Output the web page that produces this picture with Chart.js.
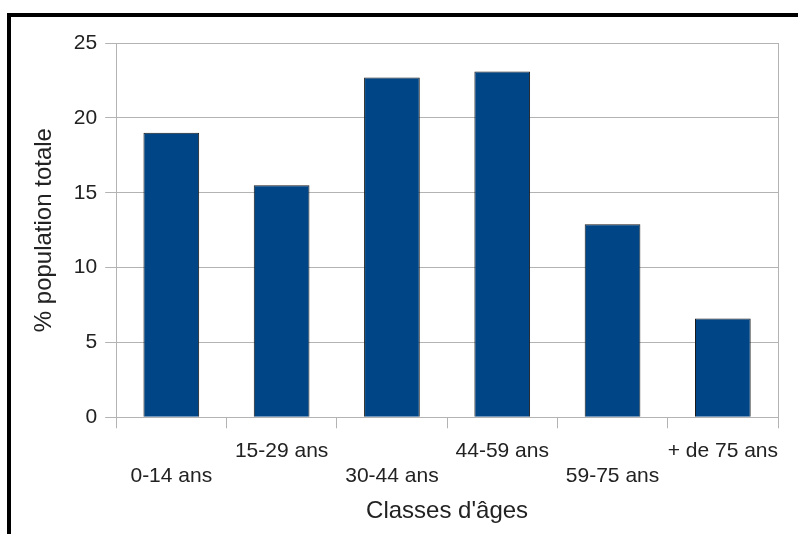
<!DOCTYPE html>
<html lang="fr">
<head>
<meta charset="utf-8">
<title>Population par classes d'âges</title>
<script src="https://cdn.jsdelivr.net/npm/chart.js@4/dist/chart.umd.min.js"></script>
<style>
  html, body { margin: 0; padding: 0; background: #fff; }
  #wrap { position: relative; width: 798px; height: 534px; overflow: hidden; }
  #frame {
    position: absolute; left: 7px; top: 13px; right: 0; bottom: 0;
    border-top: 4px solid #000; border-left: 4px solid #000;
  }
  #chart { position: absolute; left: 0; top: 0; }
</style>
</head>
<body>
<div id="wrap">
  <div id="frame"></div>
  <canvas id="chart" width="798" height="534"></canvas>
</div>
<script>
// Age classes, share of the total population (%)
const categories = ['0-14 ans', '15-29 ans', '30-44 ans', '44-59 ans', '59-75 ans', '+ de 75 ans'];
const shares = [19.0, 15.5, 22.7, 23.1, 12.9, 6.6];
const yTicks = [0, 5, 10, 15, 20, 25];

// Staggered category labels: every other label goes on a second line
const staggered = categories.map((c, i) => (i % 2 === 0 ? ['', c] : [c]));

const GRID = '#b3b3b3';
const TEXT = '#222222';
const FONT = 'Liberation Sans, Arial, sans-serif';

new Chart(document.getElementById('chart'), {
  type: 'bar',
  data: {
    labels: staggered,
    datasets: [{
      data: shares,
      backgroundColor: '#004586',
      borderColor: '#1a1a1a',
      borderWidth: 1,
      barPercentage: 0.505,
      categoryPercentage: 1.0
    }]
  },
  options: {
    responsive: false,
    animation: false,
    events: [],
    layout: { padding: { left: 20, top: 43, right: 20, bottom: 8.5 } },
    plugins: { legend: { display: false }, tooltip: { enabled: false }, title: { display: false } },
    scales: {
      x: {
        type: 'category',
        offset: true,
        grid: {
          offset: true,
          drawOnChartArea: true,
          // only the outer frame lines run through the plot; inner ones are tick marks
          color: ctx => (ctx.type !== 'tick' || ctx.index === 0) ? GRID : 'rgba(0,0,0,0)',
          tickColor: GRID,
          tickLength: 11,
          lineWidth: 1
        },
        border: { display: false },
        ticks: {
          color: TEXT,
          font: { family: FONT, size: 21 },
          padding: 10,
          maxRotation: 0,
          autoSkip: false
        },
        title: {
          display: true,
          text: "Classes d'âges",
          color: TEXT,
          font: { family: FONT, size: 24 },
          padding: { top: -2, bottom: 0 }
        }
      },
      y: {
        min: 0,
        max: 25,
        afterBuildTicks: axis => { axis.ticks = yTicks.map(v => ({ value: v })); },
        grid: { color: GRID, tickColor: GRID, tickLength: 11, lineWidth: 1 },
        border: { display: false },
        ticks: {
          color: TEXT,
          font: { family: FONT, size: 21 },
          padding: 8
        },
        title: {
          display: true,
          text: '% population totale',
          color: TEXT,
          font: { family: FONT, size: 24 },
          padding: { top: 10, bottom: 7 }
        }
      }
    }
  }
});
</script>
</body>
</html>
